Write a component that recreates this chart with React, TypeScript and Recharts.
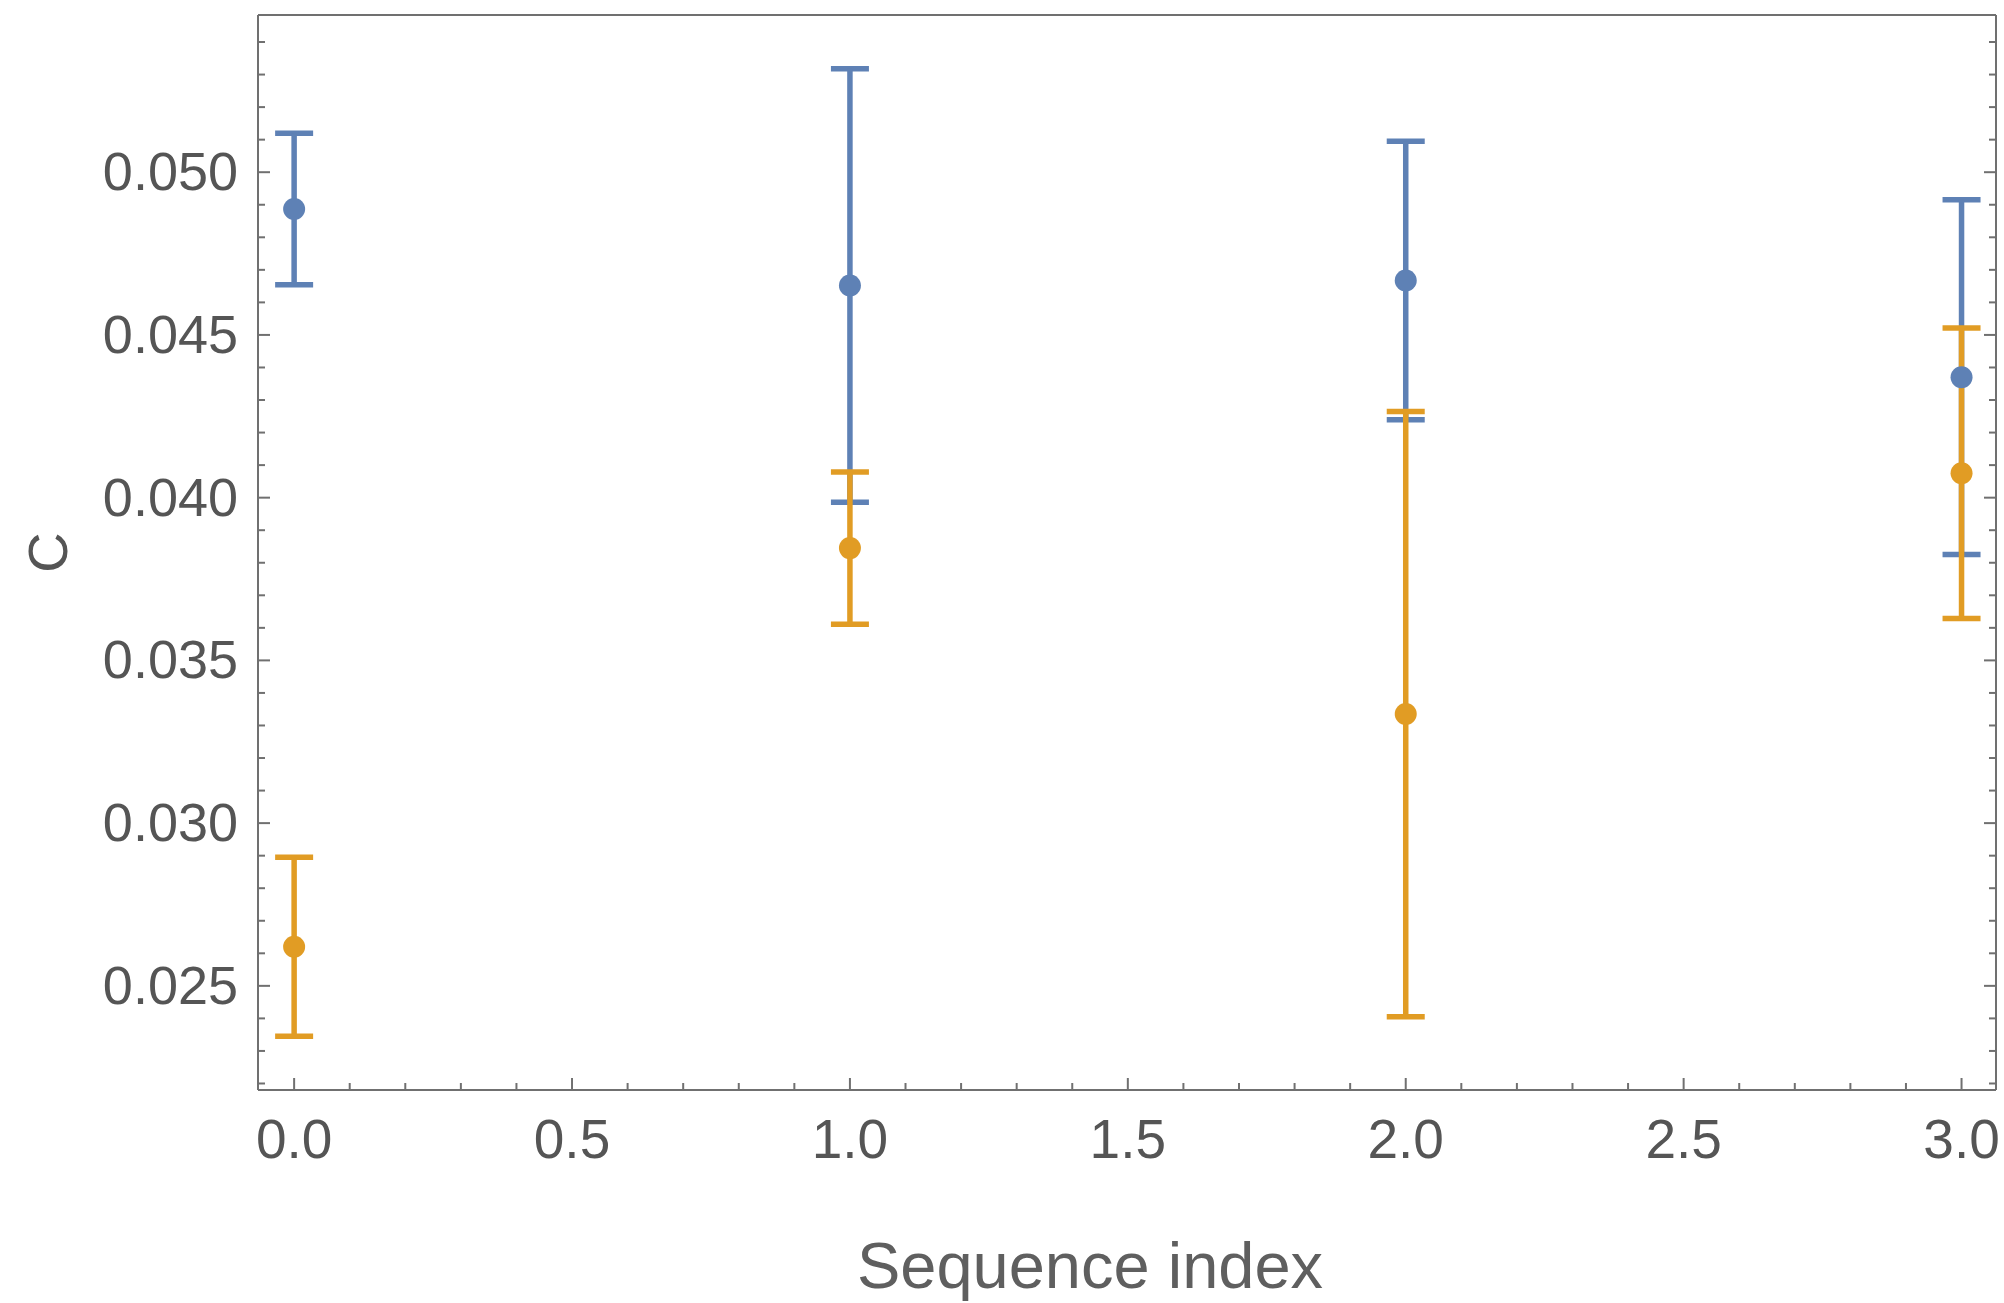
import { ScatterChart, Scatter, XAxis, YAxis, ErrorBar } from 'recharts'

const indices = [0, 1, 2, 3]
const blueValues = [0.04887, 0.04652, 0.04667, 0.0437]
const blueErrors = [0.00233, 0.00666, 0.00428, 0.00545]
const orangeValues = [0.0262, 0.03845, 0.03335, 0.04075]
const orangeErrors = [0.00275, 0.00234, 0.0093, 0.00446]

const xMajorTicks = [0, 0.5, 1, 1.5, 2, 2.5, 3]
const yMajorTicks = [0.025, 0.03, 0.035, 0.04, 0.045, 0.05]
const xAllTicks = Array.from({ length: 31 }, (_, i) => +(i * 0.1).toFixed(1))
const yAllTicks = Array.from({ length: 33 }, (_, i) => +(0.022 + i * 0.001).toFixed(3))

const X_DOMAIN: [number, number] = [-0.065, 3.062]
const Y_DOMAIN: [number, number] = [0.0218, 0.05483]

const BLUE = '#5e81b5'
const ORANGE = '#e19c24'
const FRAME = '#707070'
const TEXT = '#555555'
const FONT = '"Liberation Sans", Arial, sans-serif'

const blueData = indices.map((x, i) => ({ x, y: blueValues[i], err: blueErrors[i] }))
const orangeData = indices.map((x, i) => ({ x, y: orangeValues[i], err: orangeErrors[i] }))

const isMajor = (v: number, majors: number[]) => majors.some((m) => Math.abs(m - v) < 1e-6)

function XTick(props: any) {
    const { x, y, payload, side } = props
    const major = isMajor(payload.value, xMajorTicks)
    const len = major ? 12 : 7
    const dir = side === 'bottom' ? -1 : 1
    return (
        <g>
            <line x1={x} y1={y} x2={x} y2={y + dir * len} stroke={FRAME} strokeWidth={2} />
            {side === 'bottom' && major && (
                <text x={x} y={y + 68} textAnchor="middle" fill={TEXT} fontSize={55} fontFamily={FONT}>
                    {payload.value.toFixed(1)}
                </text>
            )}
        </g>
    )
}

function YTick(props: any) {
    const { x, y, payload, side } = props
    const major = isMajor(payload.value, yMajorTicks)
    const len = major ? 12 : 7
    const dir = side === 'left' ? 1 : -1
    return (
        <g>
            <line x1={x} y1={y} x2={x + dir * len} y2={y} stroke={FRAME} strokeWidth={2} />
            {side === 'left' && major && (
                <text x={x - 20} y={y + 18} textAnchor="end" fill={TEXT} fontSize={54} fontFamily={FONT}>
                    {payload.value.toFixed(3)}
                </text>
            )}
        </g>
    )
}

const dot = (color: string) => (p: any) => <circle cx={p.cx} cy={p.cy} r={11} fill={color} />

export default function App() {
    return (
        <div style={{ position: 'absolute', left: 0, top: 0, background: '#fff' }}>
            <ScatterChart width={2004} height={1303} margin={{ top: 0, right: 0, left: 0, bottom: 0 }}>
                <XAxis
                    xAxisId={0}
                    dataKey="x"
                    type="number"
                    domain={X_DOMAIN}
                    allowDataOverflow
                    ticks={xAllTicks}
                    interval={0}
                    height={213}
                    tickSize={0}
                    tickMargin={0}
                    tickLine={false}
                    axisLine={{ stroke: FRAME, strokeWidth: 2 }}
                    tick={<XTick side="bottom" />}
                    label={{
                        value: 'Sequence index',
                        position: 'insideBottom',
                        offset: 15,
                        dx: -37,
                        style: { fontSize: 65, fill: '#5f5f5f', fontFamily: FONT },
                    }}
                />
                <XAxis
                    xAxisId="top"
                    orientation="top"
                    type="number"
                    domain={X_DOMAIN}
                    allowDataOverflow
                    ticks={xAllTicks}
                    interval={0}
                    height={15}
                    tickSize={0}
                    tickMargin={0}
                    tickLine={false}
                    axisLine={{ stroke: FRAME, strokeWidth: 2 }}
                    tick={<XTick side="top" />}
                />
                <YAxis
                    yAxisId={0}
                    dataKey="y"
                    type="number"
                    domain={Y_DOMAIN}
                    allowDataOverflow
                    ticks={yAllTicks}
                    interval={0}
                    width={258}
                    tickSize={0}
                    tickMargin={0}
                    tickLine={false}
                    axisLine={{ stroke: FRAME, strokeWidth: 2 }}
                    tick={<YTick side="left" />}
                    label={{
                        value: 'C',
                        angle: -90,
                        position: 'insideLeft',
                        offset: 47,
                        style: { fontSize: 56, fill: TEXT, fontFamily: FONT, textAnchor: 'middle' },
                    }}
                />
                <YAxis
                    yAxisId="right"
                    orientation="right"
                    type="number"
                    domain={Y_DOMAIN}
                    allowDataOverflow
                    ticks={yAllTicks}
                    interval={0}
                    width={8}
                    tickSize={0}
                    tickMargin={0}
                    tickLine={false}
                    axisLine={{ stroke: FRAME, strokeWidth: 2 }}
                    tick={<YTick side="right" />}
                />
                <Scatter data={blueData} fill={BLUE} shape={dot(BLUE)} isAnimationActive={false}>
                    <ErrorBar dataKey="err" direction="y" width={19} strokeWidth={5.5} stroke={BLUE} />
                </Scatter>
                <Scatter data={orangeData} fill={ORANGE} shape={dot(ORANGE)} isAnimationActive={false}>
                    <ErrorBar dataKey="err" direction="y" width={19} strokeWidth={5.5} stroke={ORANGE} />
                </Scatter>
            </ScatterChart>
        </div>
    )
}
